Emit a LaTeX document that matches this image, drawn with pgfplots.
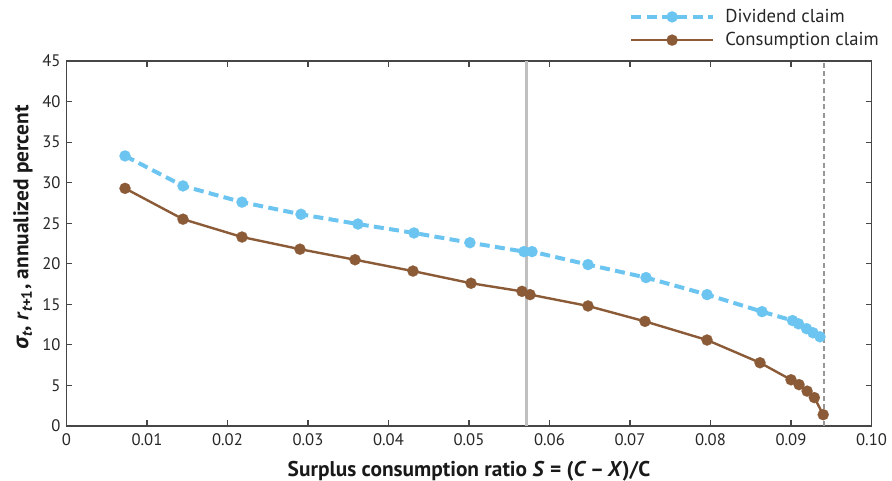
\documentclass[border=0pt]{standalone}
\usepackage{fontspec}
\setmainfont{PT Sans}
\newfontfamily\greekfont{Open Sans}
\usepackage{pgfplots}
\pgfplotsset{compat=1.18}
\definecolor{divblue}{RGB}{108,196,240}
\definecolor{conbrown}{RGB}{139,90,55}
\definecolor{axgray}{RGB}{70,70,70}
\definecolor{refgray}{RGB}{192,192,192}
\definecolor{dashgray}{RGB}{150,150,150}
\begin{document}
\begin{tikzpicture}
\begin{axis}[
  scale only axis,
  width=603.75pt, height=273.75pt,
  xmin=0, xmax=0.1, ymin=0, ymax=45,
  xtick={0,0.01,0.02,0.03,0.04,0.05,0.06,0.07,0.08,0.09,0.1},
  xticklabels={0,0.01,0.02,0.03,0.04,0.05,0.06,0.07,0.08,0.09,0.10},
  ytick={0,5,10,15,20,25,30,35,40,45},
  /pgf/number format/assume math mode=true,
  tick align=inside,
  major tick length=4.5pt,
  axis line style={axgray, line width=0.9pt},
  every tick/.style={axgray, line width=0.9pt},
  ticklabel style={font=\fontsize{12.5}{14}\selectfont, text=black!85},
  xticklabel style={yshift=-2pt},
  yticklabel style={xshift=-1pt},
  every axis x label/.style={at={(axis description cs:0.5,-0.137)}, anchor=base, inner sep=0pt},
  every axis y label/.style={at={(axis description cs:-0.0665,0.544)}, rotate=90, anchor=north, inner sep=0pt},
  label style={font=\fontsize{16}{18}\selectfont\bfseries, text=black!90},
  xlabel={Surplus consumption ratio \textit{S} = (\textit{C}\,–\,\textit{X})/C},
  ylabel={{\greekfont\bfseries\itshape σ}\textsubscript{\itshape t}, \textit{r}\textsubscript{\itshape t\upshape +1}, annualized percent},
  legend style={at={(axis description cs:0.699,1.089)}, anchor=west, draw=none, fill=none,
    inner sep=0pt, row sep=2pt, font=\fontsize{14}{16}\selectfont, text=black!85,
    cells={anchor=west},
    /tikz/every odd column/.append style={column sep=6pt}},
  legend image code/.code={\draw[mark repeat=2,mark phase=2,#1] plot coordinates {(0pt,0pt) (30.5pt,0pt) (61pt,0pt)};},
  clip=false,
]
\addplot[refgray, line width=2.2pt, forget plot] coordinates {(0.05714,0) (0.05714,45)};
\addplot[dashgray, line width=0.9pt, dash pattern=on 3.75pt off 2.5pt, forget plot] coordinates {(0.0941,0) (0.0941,45)};
\addplot[divblue, line width=3pt, dash pattern=on 7.5pt off 4pt, mark=*, mark size=4.2pt,
  mark options={solid, fill=divblue, draw=divblue, line width=0.1pt}] coordinates {
 (0.00727,33.3) (0.01447,29.6) (0.0218,27.6) (0.02913,26.1) (0.0362,24.9) (0.04317,23.8)
 (0.05012,22.6) (0.05683,21.5) (0.05783,21.5) (0.06478,19.9) (0.07199,18.3) (0.07957,16.2)
 (0.0864,14.1) (0.09019,13.0) (0.09093,12.6) (0.09193,12.0) (0.09273,11.5) (0.0936,11.0)
};
\addlegendentry{Dividend claim}
\addplot[conbrown, line width=1.8pt, mark=*, mark size=4.2pt,
  mark options={solid, fill=conbrown, draw=conbrown, line width=0.1pt}] coordinates {
 (0.00727,29.3) (0.01447,25.5) (0.0218,23.3) (0.029,21.8) (0.03584,20.5) (0.04304,19.1)
 (0.05025,17.6) (0.05658,16.6) (0.05758,16.2) (0.06478,14.8) (0.07186,12.9) (0.07957,10.6)
 (0.08615,7.8) (0.09,5.7) (0.091,5.1) (0.092,4.3) (0.0929,3.5) (0.094,1.4)
};
\addlegendentry{Consumption claim}
\end{axis}
\pgfresetboundingbox
\path[use as bounding box] ([shift={(-49.875pt,-40.5pt)}]current axis.south west) rectangle ++(669pt,360pt);
\end{tikzpicture}
\end{document}
